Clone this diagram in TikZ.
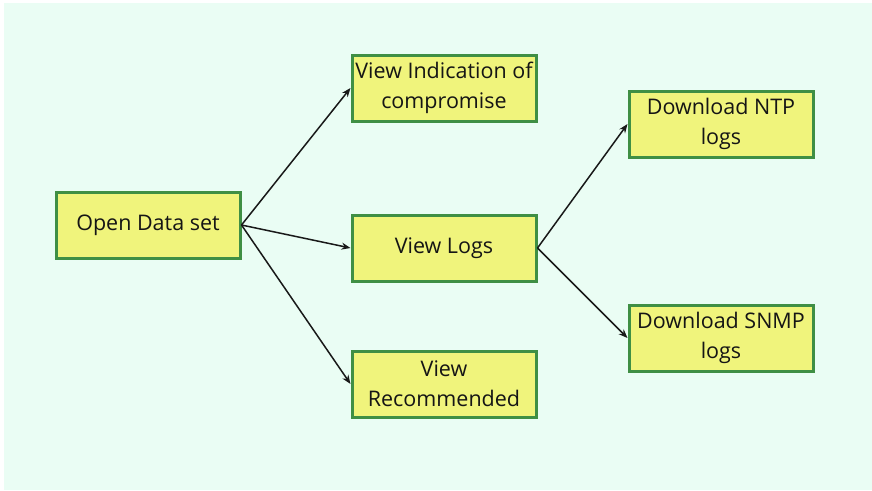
\documentclass[tikz,border=0pt]{standalone}
\usepackage{fontspec}
\setmainfont{Open Sans}
\usetikzlibrary{arrows.meta}
\definecolor{bgmint}{HTML}{EAFDF4}
\definecolor{boxfill}{HTML}{F0F47C}
\definecolor{boxline}{HTML}{3F8F44}
\definecolor{txt}{HTML}{151515}
\tikzset{
  box/.style={draw=boxline, fill=boxfill, line width=3pt, minimum width=184pt, minimum height=66pt,
    inner sep=0pt, align=center, font=\fontsize{21.5}{30}\selectfont, text=txt},
  conn/.style={draw=black!90, line width=1.5pt, -{Stealth[length=9pt,width=7pt]}}
}
\begin{document}
\begin{tikzpicture}[x=1pt,y=-1pt]
\useasboundingbox (0,0) rectangle (872,490);
\fill[white] (0,0) rectangle (872,490);
\fill[bgmint] (4,3) rectangle (872,490);
\node[box] (open) at (148,225) {Open Data set};
\node[box] (ioc) at (444,88) {View Indication of\\compromise};
\node[box] (logs) at (444,248) {View Logs};
\node[box] (rec) at (444,384) {View\\Recommended};
\node[box] (ntp) at (721,124) {Download NTP\\logs};
\node[box] (snmp) at (721,338) {Download SNMP\\logs};
\draw[conn] (open.east) -- (ioc.west);
\draw[conn] (open.east) -- (logs.west);
\draw[conn] (open.east) -- (rec.west);
\draw[conn] (logs.east) -- (ntp.west);
\draw[conn] (logs.east) -- (snmp.west);
\end{tikzpicture}
\end{document}
